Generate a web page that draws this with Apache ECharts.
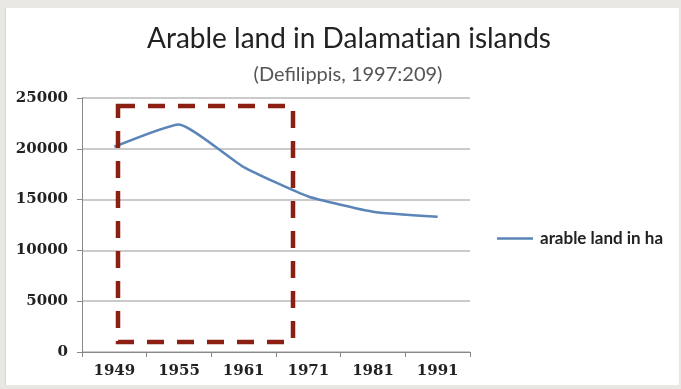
<!DOCTYPE html>
<html>
<head>
<meta charset="utf-8">
<script src="https://cdn.jsdelivr.net/npm/echarts@6/dist/echarts.min.js"></script>
<style>
html,body{margin:0;padding:0;background:#e9e7e3;width:681px;height:389px;overflow:hidden;}
#frame{position:absolute;left:5px;top:8px;width:673px;height:377px;background:#fff;border-left:1px solid #d8d8d8;}
#chart{position:absolute;left:0;top:0;width:681px;height:389px;}
</style>
</head>
<body>
<div id="frame"></div>
<div id="chart"></div>
<script>
const years = ['1949','1955','1961','1971','1981','1991'];
const arableLand = [20200, 22400, 18200, 15300, 13800, 13300];
const yTicks = [0, 5000, 10000, 15000, 20000, 25000];
const seriesName = 'arable land in ha';

const chart = echarts.init(document.getElementById('chart'), null, {renderer:'canvas'});
chart.setOption({
  backgroundColor: 'transparent',
  animation: false,
  title: [{
    text: 'Arable land in Dalamat\u200Cian islands',
    left: 344, top: 20, textAlign: 'center',
    textStyle: {fontFamily: 'Lato', fontWeight: 'normal', fontSize: 28, color: '#222'}
  },{
    text: '(Defilippis, 1997:209)',
    left: 343, top: 60, textAlign: 'center',
    textStyle: {fontFamily: 'Lato', fontWeight: 'normal', fontSize: 20, color: '#555'}
  }],
  legend: {
    data: [seriesName],
    left: 492, top: 225,
    icon: 'rect',
    itemWidth: 36, itemHeight: 2.5, itemGap: 0,
    textStyle: {fontFamily: 'Lato', fontWeight: 'bold', fontSize: 17, color: '#222', padding: [0,0,0,2]}
  },
  grid: {left: 82, top: 98, width: 388, height: 254, containLabel: false},
  xAxis: {
    type: 'category', data: years, boundaryGap: true,
    axisLine: {lineStyle: {color: '#888', width: 1}},
    axisTick: {show: true, length: 5, lineStyle: {color: '#888'}},
    axisLabel: {fontFamily: 'DejaVu Serif', fontWeight: 'bold', fontSize: 15, color: '#222', margin: 12}
  },
  yAxis: {
    type: 'value', min: 0, max: 25000, interval: 5000,
    axisLine: {show: true, lineStyle: {color: '#888'}},
    axisTick: {show: true, length: 5, lineStyle: {color: '#888'}},
    splitLine: {lineStyle: {color: '#b8b8b8', width: 1.5}},
    axisLabel: {fontFamily: 'DejaVu Serif', fontWeight: 'bold', fontSize: 15, color: '#222', margin: 14,
      formatter: v => yTicks.includes(v) ? String(v) : ''}
  },
  series: [{
    name: seriesName, type: 'line', data: arableLand,
    symbol: 'none', smooth: 0.15,
    lineStyle: {color: '#5b85b8', width: 2.5},
    itemStyle: {color: '#5b85b8'}
  }],
  graphic: [{
    type: 'rect', z: 100,
    shape: {x: 118, y: 106, width: 175, height: 236},
    style: {fill: 'none', stroke: '#8a1f12', lineWidth: 4.5, lineDash: [17, 13]}
  }]
});
</script>
</body>
</html>
